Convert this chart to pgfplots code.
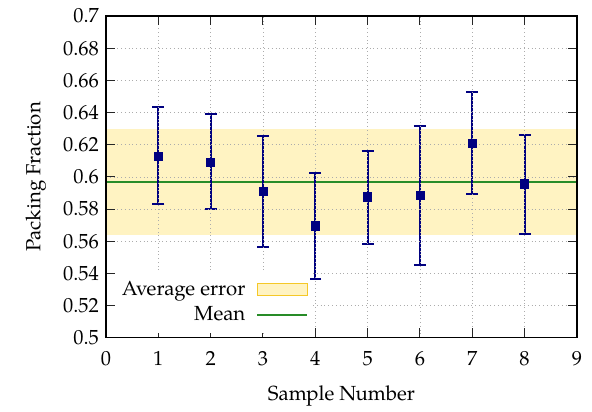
\documentclass[border=0pt]{standalone}
\usepackage{fontspec}
\setmainfont{TeX Gyre Pagella}
\usepackage{pgfplots}
\usepackage{pgfplotstable}
\pgfplotsset{compat=1.18}
\definecolor{bandyellow}{RGB}{255,243,194}
\definecolor{bandgold}{RGB}{245,200,40}
\definecolor{meangreen}{RGB}{40,140,40}
\definecolor{ptnavy}{RGB}{0,0,128}
\newcommand{\bigf}{\fontsize{13}{16}\selectfont}
\pgfplotstableread{
x y ep em
1 0.613 0.0305 0.0298
2 0.6093 0.0297 0.0293
3 0.591 0.0345 0.0345
4 0.5696 0.0329 0.0330
5 0.5876 0.0284 0.0292
6 0.5888 0.0429 0.0435
7 0.621 0.0318 0.0316
8 0.5957 0.0303 0.0311
}\datatable
\begin{document}
\begin{tikzpicture}
\begin{axis}[
  scale only axis,
  width=300pt, height=205pt,
  xmin=0, xmax=9, ymin=0.5, ymax=0.7,
  xtick={0,1,...,9},
  ytick={0.5,0.52,...,0.705},
  /pgf/number format/fixed,
  /pgf/number format/precision=2,
  /pgf/number format/assume math mode=true,
  ticklabel style={font=\bigf},
  label style={font=\bigf},
  grid=major,
  grid style={dotted, gray!65, line width=0.5pt},
  tick align=inside,
  major tick length=6pt,
  tick style={black!85, line width=0.6pt},
  axis line style={line width=0.8pt},
  axis on top,
  xlabel={Sample Number},
  ylabel={Packing Fraction},
  xticklabel style={yshift=-5pt},
  yticklabel style={xshift=-1pt},
  xlabel style={yshift=-6pt},
  ylabel style={yshift=4pt},
  legend plot pos=right,
  legend cell align=right,
  legend style={font=\bigf, draw=none, fill=white, at={(0.433,0.015)}, anchor=south east, row sep=2pt, inner xsep=1pt, inner ysep=4pt},
]
\addplot[fill=bandyellow, draw=none, forget plot] coordinates {(0,0.5637) (9,0.5637) (9,0.6298) (0,0.6298)} -- cycle;
\addlegendimage{legend image code/.code={\path (0pt,0pt); \draw[fill=bandyellow, draw=bandgold, line width=0.6pt] (5pt,-3.8pt) rectangle (37pt,3.8pt);}}
\addlegendentry{Average error}
\addplot[meangreen, line width=0.9pt, legend image code/.code={\path (0pt,0pt); \draw[meangreen, line width=0.9pt] (5pt,0pt) -- (37pt,0pt);}] coordinates {(0,0.5969) (9,0.5969)};
\addlegendentry{Mean}
\addplot[only marks, mark=square*, mark size=2.6pt, color=ptnavy, forget plot,
  error bars/.cd, y dir=both, y explicit,
  error bar style={line width=1.15pt, ptnavy},
  error mark options={rotate=90, mark size=3.8pt, line width=1.15pt, ptnavy}]
  table[x=x, y=y, y error plus=ep, y error minus=em] {\datatable};
\end{axis}
\pgfresetboundingbox
\path (current axis.south west) ++(-67.5pt,-47.1pt) coordinate (bl);
\path (current axis.north east) ++(9.6pt,10.2pt) coordinate (tr);
\useasboundingbox (bl) rectangle (tr);
\end{tikzpicture}
\end{document}
